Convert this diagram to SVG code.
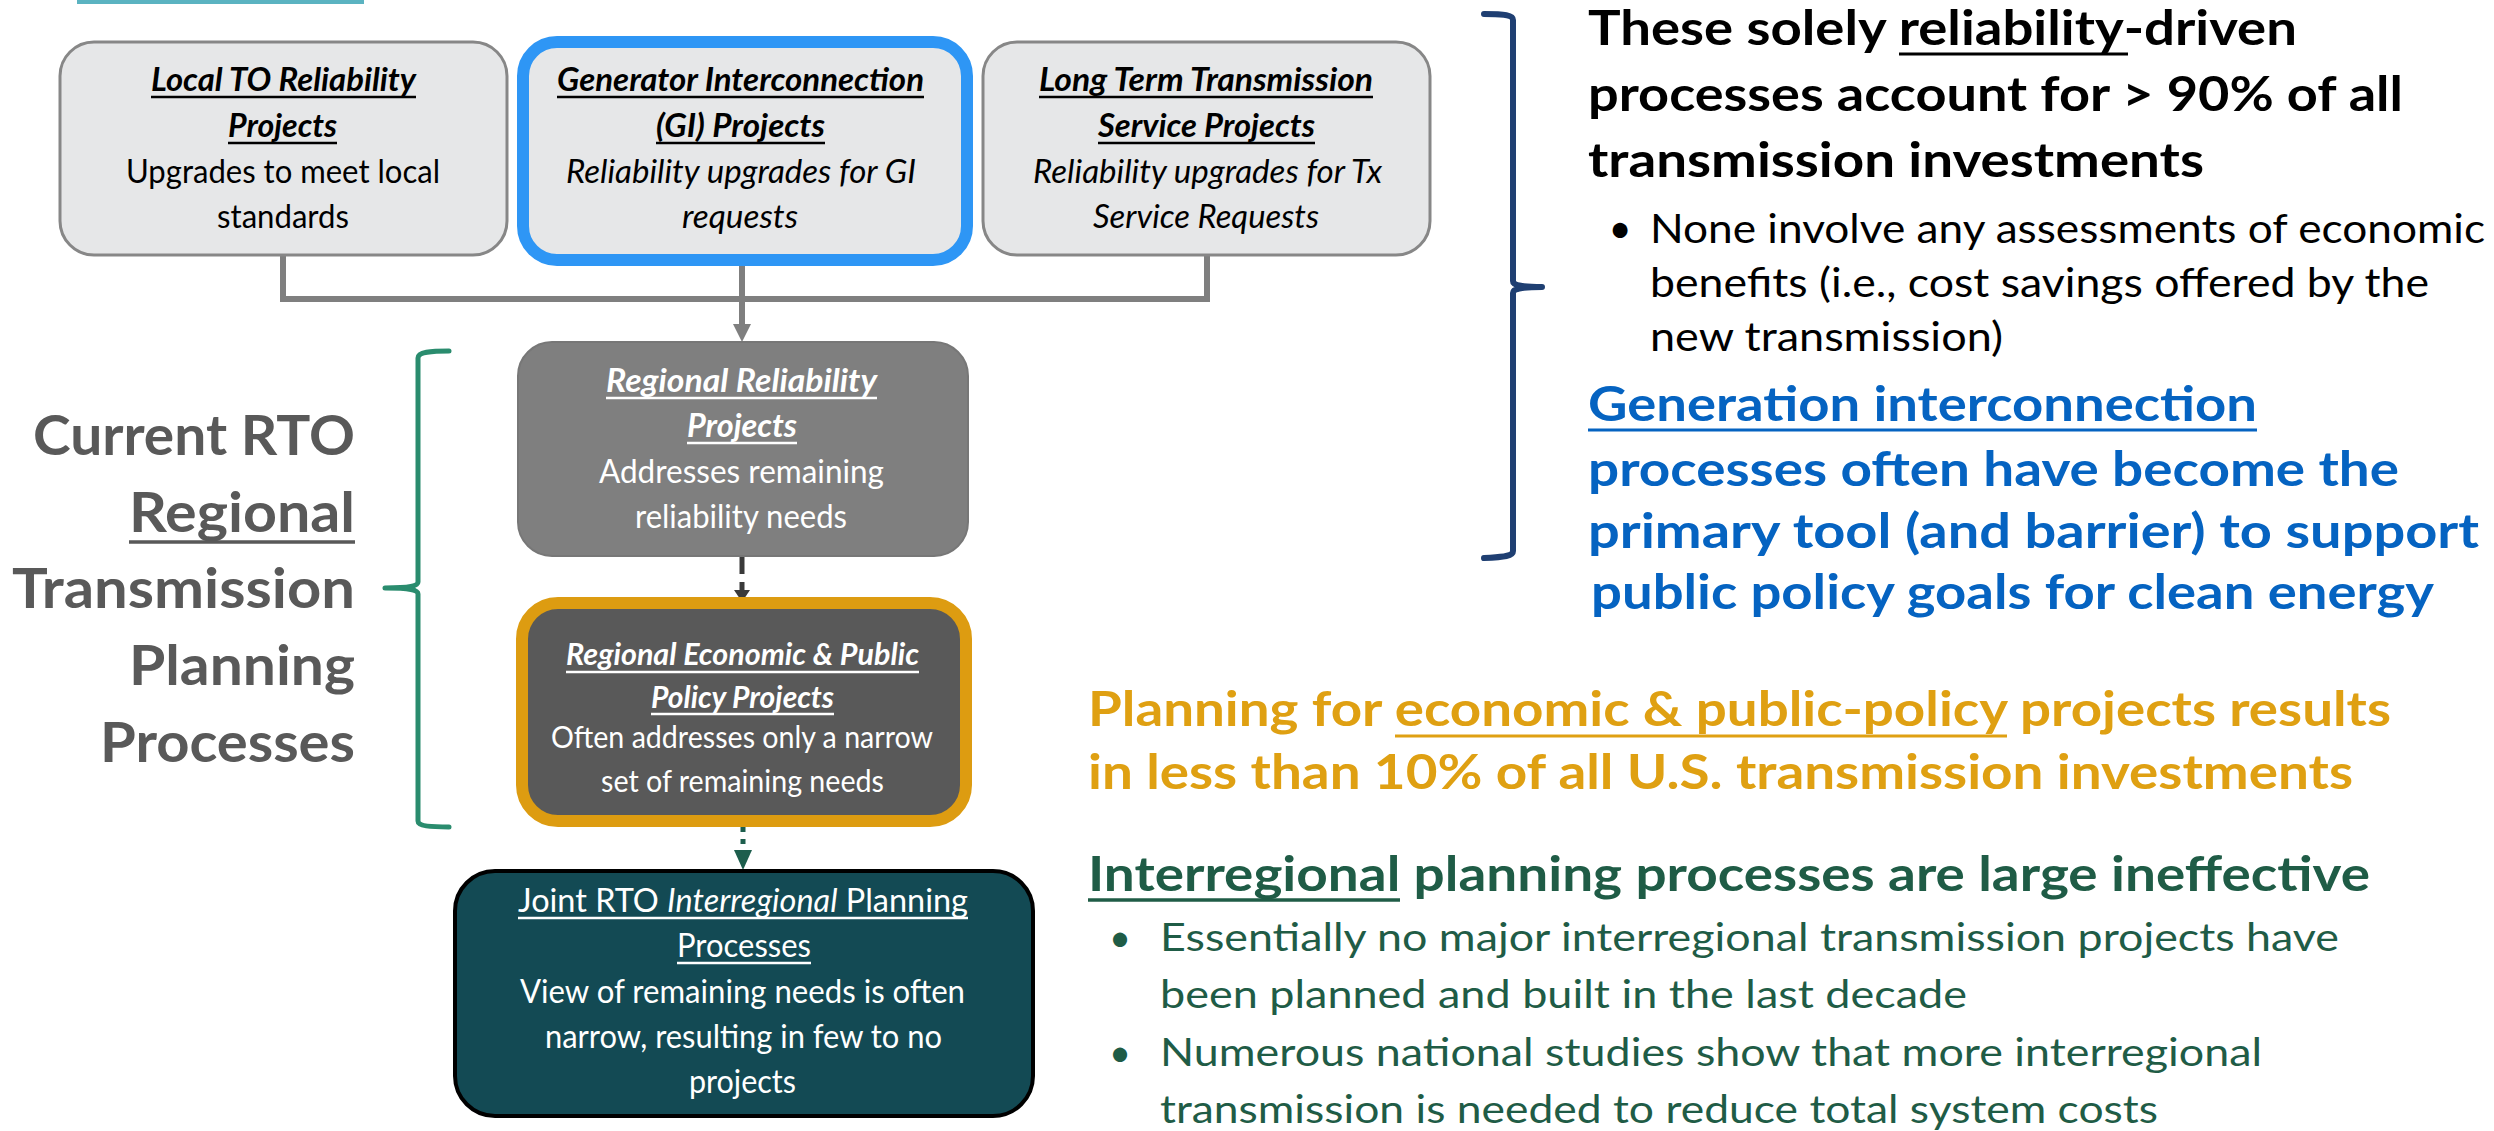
<svg xmlns="http://www.w3.org/2000/svg" width="2494" height="1131" viewBox="0 0 2494 1131">
<style>
text{font-family:Lato,"Open Sans","DejaVu Sans",sans-serif}
.bi{font-weight:bold;font-style:italic}
.i{font-style:italic}
.b{font-weight:bold}
.bx{font-size:32px}
.bx5{font-size:30px}
.dk{fill:#000}
.wt{fill:#fff}
.lbl{font-size:56px;font-weight:bold;fill:#595959}
.h{font-size:47px;font-weight:bold}
.h2{font-size:48px;font-weight:bold}
.p{font-size:40px}
.p2{font-size:38px}
.blk{fill:#000}
.blu{fill:#0563c1}
.org{fill:#dfa012}
.grn{fill:#1f5c46}
.ulk{stroke:#000;stroke-width:2.5}
.ulw{stroke:#fff;stroke-width:2.5}
.conn{fill:none}
</style>
<defs>
<marker id="arrGray" markerUnits="userSpaceOnUse" markerWidth="20" markerHeight="20" refX="0" refY="9" orient="auto"><path d="M0,0 L18,9 L0,18 Z" fill="#7f7f7f"/></marker>
<marker id="arrDark" markerUnits="userSpaceOnUse" markerWidth="20" markerHeight="20" refX="0" refY="8" orient="auto"><path d="M0,0 L12,8 L0,16 Z" fill="#3a3a3a"/></marker>
<marker id="arrGreen" markerUnits="userSpaceOnUse" markerWidth="22" markerHeight="22" refX="0" refY="9" orient="auto"><path d="M0,0 L20,9 L0,18 Z" fill="#1d5e4d"/></marker>
</defs>
<rect x="0" y="0" width="2494" height="1131" fill="#fff"/>
<rect x="77" y="0" width="287" height="4" fill="#5bb3c1"/>

<g id="connectors" class="conn">
<path d="M283,255 V299 H1207 V255" stroke="#7f7f7f" stroke-width="6"/>
<path d="M742,266 V324" stroke="#7f7f7f" stroke-width="6" marker-end="url(#arrGray)"/>
<path d="M742,556 V590" stroke="#3a3a3a" stroke-width="5" stroke-dasharray="18 8" marker-end="url(#arrDark)"/>
<path d="M743,827 V850" stroke="#1d5e4d" stroke-width="5" stroke-dasharray="5 7" marker-end="url(#arrGreen)"/>
</g>

<g id="node-local-to">
<rect x="60" y="42" width="447" height="213" rx="34" fill="#e6e7e8" stroke="#878787" stroke-width="3"/>
<text class="bx bi dk" x="151" y="91" textLength="265" lengthAdjust="spacingAndGlyphs">Local TO Reliability</text>
<line class="ulk" x1="151" y1="97" x2="416" y2="97"/>
<text class="bx bi dk" x="228" y="137" textLength="109" lengthAdjust="spacingAndGlyphs">Projects</text>
<line class="ulk" x1="228" y1="143" x2="337" y2="143"/>
<text class="bx dk" x="126" y="183" textLength="314" lengthAdjust="spacingAndGlyphs">Upgrades to meet local</text>
<text class="bx dk" x="217" y="228" textLength="132" lengthAdjust="spacingAndGlyphs">standards</text>
</g>

<g id="node-gi">
<rect x="523" y="42" width="444" height="218" rx="34" fill="#e6e7e8" stroke="#2e96f5" stroke-width="12"/>
<text class="bx bi dk" x="557" y="91" textLength="367" lengthAdjust="spacingAndGlyphs">Generator Interconnection</text>
<line class="ulk" x1="557" y1="97" x2="924" y2="97"/>
<text class="bx bi dk" x="656" y="137" textLength="169" lengthAdjust="spacingAndGlyphs">(GI) Projects</text>
<line class="ulk" x1="656" y1="143" x2="825" y2="143"/>
<text class="bx i dk" x="566" y="183" textLength="350" lengthAdjust="spacingAndGlyphs">Reliability upgrades for GI</text>
<text class="bx i dk" x="682" y="228" textLength="116" lengthAdjust="spacingAndGlyphs">requests</text>
</g>

<g id="node-ltts">
<rect x="983" y="42" width="447" height="213" rx="34" fill="#e6e7e8" stroke="#878787" stroke-width="3"/>
<text class="bx bi dk" x="1039" y="91" textLength="334" lengthAdjust="spacingAndGlyphs">Long Term Transmission</text>
<line class="ulk" x1="1039" y1="97" x2="1373" y2="97"/>
<text class="bx bi dk" x="1098" y="137" textLength="217" lengthAdjust="spacingAndGlyphs">Service Projects</text>
<line class="ulk" x1="1098" y1="143" x2="1315" y2="143"/>
<text class="bx i dk" x="1033" y="183" textLength="349" lengthAdjust="spacingAndGlyphs">Reliability upgrades for Tx</text>
<text class="bx i dk" x="1093" y="228" textLength="226" lengthAdjust="spacingAndGlyphs">Service Requests</text>
</g>

<g id="node-regional-reliability">
<rect x="518" y="342" width="450" height="214" rx="34" fill="#7f7f7f" stroke="#777" stroke-width="2"/>
<text class="bx bi wt" x="606" y="392" textLength="271" lengthAdjust="spacingAndGlyphs">Regional Reliability</text>
<line class="ulw" x1="606" y1="398" x2="877" y2="398"/>
<text class="bx bi wt" x="687" y="437" textLength="110" lengthAdjust="spacingAndGlyphs">Projects</text>
<line class="ulw" x1="687" y1="443" x2="797" y2="443"/>
<text class="bx wt" x="599" y="483" textLength="285" lengthAdjust="spacingAndGlyphs">Addresses remaining</text>
<text class="bx wt" x="635" y="528" textLength="212" lengthAdjust="spacingAndGlyphs">reliability needs</text>
</g>

<g id="node-regional-economic">
<rect x="522" y="603" width="444" height="218" rx="36" fill="#595959" stroke="#dd9c11" stroke-width="12"/>
<text class="bx5 bi wt" x="566" y="665" textLength="353" lengthAdjust="spacingAndGlyphs">Regional Economic &amp; Public</text>
<line class="ulw" x1="566" y1="672" x2="919" y2="672"/>
<text class="bx5 bi wt" x="651" y="708" textLength="183" lengthAdjust="spacingAndGlyphs">Policy Projects</text>
<line class="ulw" x1="651" y1="714" x2="834" y2="714"/>
<text class="bx5 wt" x="551" y="748" textLength="382" lengthAdjust="spacingAndGlyphs">Often addresses only a narrow</text>
<text class="bx5 wt" x="601" y="792" textLength="283" lengthAdjust="spacingAndGlyphs">set of remaining needs</text>
</g>

<g id="node-interregional">
<rect x="455" y="871" width="578" height="245" rx="40" fill="#134a54" stroke="#000" stroke-width="4"/>
<text class="bx wt" x="518" y="912" textLength="450" lengthAdjust="spacingAndGlyphs">Joint RTO <tspan class="i">Interregional</tspan> Planning</text>
<line class="ulw" x1="518" y1="918" x2="968" y2="918"/>
<text class="bx wt" x="677" y="957" textLength="134" lengthAdjust="spacingAndGlyphs">Processes</text>
<line class="ulw" x1="677" y1="963" x2="811" y2="963"/>
<text class="bx wt" x="520" y="1003" textLength="445" lengthAdjust="spacingAndGlyphs">View of remaining needs is often</text>
<text class="bx wt" x="545" y="1048" textLength="397" lengthAdjust="spacingAndGlyphs">narrow, resulting in few to no</text>
<text class="bx wt" x="689" y="1093" textLength="107" lengthAdjust="spacingAndGlyphs">projects</text>
</g>

<g id="label-current-rto">
<text class="lbl" x="355" y="455" text-anchor="end" textLength="322" lengthAdjust="spacingAndGlyphs">Current RTO</text>
<text class="lbl" x="355" y="532" text-anchor="end" textLength="226" lengthAdjust="spacingAndGlyphs">Regional</text>
<line x1="129" y1="542" x2="355" y2="542" stroke="#595959" stroke-width="3.5"/>
<text class="lbl" x="355" y="608" text-anchor="end" textLength="343" lengthAdjust="spacingAndGlyphs">Transmission</text>
<text class="lbl" x="355" y="685" text-anchor="end" textLength="226" lengthAdjust="spacingAndGlyphs">Planning</text>
<text class="lbl" x="355" y="762" text-anchor="end" textLength="255" lengthAdjust="spacingAndGlyphs">Processes</text>
<path d="M449,351 C430,351 418,352 418,358 V582 C418,586 410,588 385,588 C410,588 418,590 418,594 V821 C418,826 430,827 449,827" fill="none" stroke="#2a8c6e" stroke-width="5" stroke-linecap="round" stroke-linejoin="round"/>
</g>

<g id="brace-right">
<path d="M1484,14 C1505,14 1513,15 1513,20 V281 C1513,285 1520,287 1542,287 C1520,287 1513,289 1513,293 V551 C1513,556 1505,557 1484,558" fill="none" stroke="#1f3f72" stroke-width="6" stroke-linecap="round" stroke-linejoin="round"/>
</g>

<g id="text-reliability">
<text class="h blk" x="1588" y="45" textLength="709" lengthAdjust="spacingAndGlyphs">These solely reliability-driven</text>
<line x1="1899" y1="54" x2="2128" y2="54" stroke="#000" stroke-width="3"/>
<text class="h blk" x="1588" y="111" textLength="815" lengthAdjust="spacingAndGlyphs">processes account for &gt; 90% of all</text>
<text class="h blk" x="1588" y="177" textLength="616" lengthAdjust="spacingAndGlyphs">transmission investments</text>
<text class="p blk" x="1620" y="243" text-anchor="middle">•</text>
<text class="p blk" x="1650" y="243" textLength="835" lengthAdjust="spacingAndGlyphs">None involve any assessments of economic</text>
<text class="p blk" x="1650" y="297" textLength="779" lengthAdjust="spacingAndGlyphs">benefits (i.e., cost savings offered by the</text>
<text class="p blk" x="1650" y="351" textLength="353" lengthAdjust="spacingAndGlyphs">new transmission)</text>
</g>

<g id="text-gi">
<text class="h blu" x="1588" y="421" textLength="669" lengthAdjust="spacingAndGlyphs">Generation interconnection</text>
<line x1="1588" y1="430" x2="2257" y2="430" stroke="#0563c1" stroke-width="3"/>
<text class="h blu" x="1588" y="486" textLength="811" lengthAdjust="spacingAndGlyphs">processes often have become the</text>
<text class="h blu" x="1588" y="548" textLength="891" lengthAdjust="spacingAndGlyphs">primary tool (and barrier) to support</text>
<text class="h blu" x="1591" y="609" textLength="843" lengthAdjust="spacingAndGlyphs">public policy goals for clean energy</text>
</g>

<g id="text-economic">
<text class="h2 org" x="1088" y="726" textLength="1303" lengthAdjust="spacingAndGlyphs">Planning for economic &amp; public-policy projects results</text>
<line x1="1395" y1="736" x2="2007" y2="736" stroke="#dfa012" stroke-width="3"/>
<text class="h2 org" x="1088" y="789" textLength="1265" lengthAdjust="spacingAndGlyphs">in less than 10% of all U.S. transmission investments</text>
</g>

<g id="text-interregional">
<text class="h2 grn" x="1088" y="891" textLength="1282" lengthAdjust="spacingAndGlyphs">Interregional planning processes are large ineffective</text>
<line x1="1088" y1="900" x2="1400" y2="900" stroke="#1f5c46" stroke-width="3.5"/>
<text class="p2 grn" x="1120" y="951" text-anchor="middle">•</text>
<text class="p2 grn" x="1160" y="951" textLength="1179" lengthAdjust="spacingAndGlyphs">Essentially no major interregional transmission projects have</text>
<text class="p2 grn" x="1160" y="1008" textLength="807" lengthAdjust="spacingAndGlyphs">been planned and built in the last decade</text>
<text class="p2 grn" x="1120" y="1066" text-anchor="middle">•</text>
<text class="p2 grn" x="1160" y="1066" textLength="1102" lengthAdjust="spacingAndGlyphs">Numerous national studies show that more interregional</text>
<text class="p2 grn" x="1160" y="1123" textLength="998" lengthAdjust="spacingAndGlyphs">transmission is needed to reduce total system costs</text>
</g>
</svg>
